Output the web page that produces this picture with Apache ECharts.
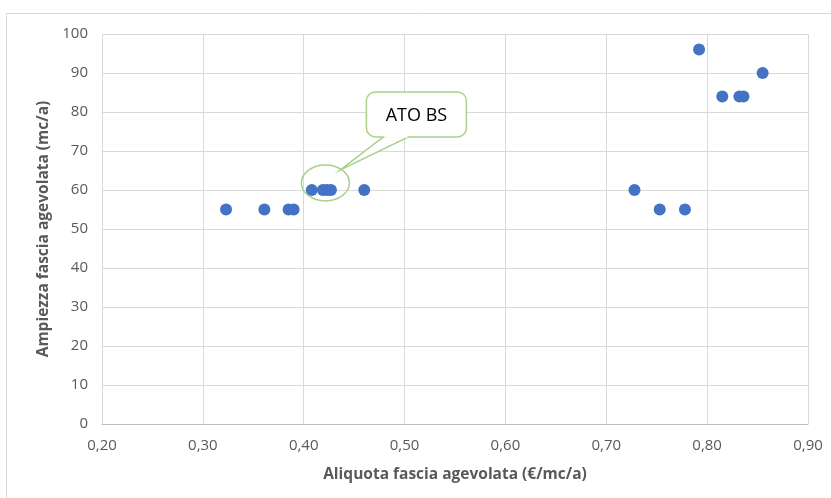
<!DOCTYPE html>
<html>
<head>
<meta charset="utf-8">
<script src="https://cdn.jsdelivr.net/npm/echarts@6/dist/echarts.min.js"></script>
<style>
  html, body { margin: 0; padding: 0; background: #fff; }
  #chart { width: 831px; height: 498px; }
</style>
</head>
<body>
<div id="chart"></div>
<script>
// Aliquota (€/mc/a) and ampiezza (mc/a) of the subsidised band, one entry per operator
const aliquota = [0.323, 0.361, 0.385, 0.390, 0.408, 0.419, 0.423, 0.427, 0.460,
                  0.728, 0.753, 0.778, 0.792, 0.815, 0.832, 0.836, 0.855];
const ampiezza = [55, 55, 55, 55, 60, 60, 60, 60, 60,
                  60, 55, 55, 96, 84, 84, 84, 90];

// Highlighted operator group and its label
const calloutText = 'ATO BS';
const calloutAnchor = [0.4215, 60.8];

const xTitle = 'Aliquota fascia agevolata (€/mc/a)';
const yTitle = 'Ampiezza fascia agevolata (mc/a)';

const FONT = '"Open Sans", Lato, sans-serif';
const GREY = '#595959';
const GRID_LINE = '#D9D9D9';

const chart = echarts.init(document.getElementById('chart'));

const points = aliquota.map((x, i) => [x, ampiezza[i]]);

chart.setOption({
  animation: false,
  backgroundColor: '#fff',
  grid: { left: 102, top: 34, width: 706, height: 390, containLabel: false },
  xAxis: {
    type: 'value',
    min: 0.2, max: 0.9, interval: 0.1,
    name: xTitle,
    nameLocation: 'middle',
    nameGap: 43,
    nameTextStyle: { color: GREY, fontFamily: FONT, fontSize: 15.5, fontWeight: 'bold' },
    axisLine: { show: true, lineStyle: { color: '#BFBFBF', width: 1 } },
    axisTick: { show: false },
    axisLabel: {
      color: GREY, fontFamily: FONT, fontSize: 15, margin: 14,
      formatter: v => v.toFixed(2).replace('.', ',')
    },
    splitLine: { show: true, lineStyle: { color: GRID_LINE, width: 1 } }
  },
  yAxis: {
    type: 'value',
    min: 0, max: 100, interval: 10,
    name: yTitle,
    nameLocation: 'middle',
    nameGap: 48,
    nameTextStyle: { color: GREY, fontFamily: FONT, fontSize: 15.5, fontWeight: 'bold' },
    axisLine: { show: false },
    axisTick: { show: false },
    axisLabel: { color: GREY, fontFamily: FONT, fontSize: 15, margin: 14 },
    splitLine: { show: true, lineStyle: { color: GRID_LINE, width: 1 } }
  },
  series: [{
    type: 'scatter',
    data: points,
    symbol: 'circle',
    symbolSize: 12,
    itemStyle: { color: '#4472C4', opacity: 1 },
    z: 5
  }]
});

// Frame of the plot region plus the callout drawn around the highlighted group
function drawOverlay() {
  const rightGrid = chart.convertToPixel({ gridIndex: 0 }, [0.9, 100]);
  const a = chart.convertToPixel({ gridIndex: 0 }, calloutAnchor);
  const cx = a[0], cy = a[1] - 4;
  const box = { x: cx + 41, y: cy - 91, w: 100, h: 45 };
  const tip = [cx + 15, cy - 13];
  const green = '#A9D18E';
  chart.setOption({
    graphic: [
      {
        type: 'rect', silent: true, z: 0,
        shape: { x: 6.5, y: 13.5, width: 900, height: 600 },
        style: { fill: 'none', stroke: GRID_LINE, lineWidth: 1 }
      },
      {
        type: 'line', silent: true, z: 1,
        shape: { x1: rightGrid[0] + 0.5, y1: rightGrid[1], x2: rightGrid[0] + 0.5, y2: 424 },
        style: { stroke: GRID_LINE, lineWidth: 1 }
      },
      {
        type: 'ellipse', silent: true, z: 10,
        shape: { cx: cx, cy: cy, rx: 24, ry: 18 },
        style: { fill: 'none', stroke: green, lineWidth: 1.5 }
      },
      {
        type: 'polygon', silent: true, z: 10,
        shape: { points: [[box.x + 17, box.y + box.h], tip, [box.x + 42, box.y + box.h]] },
        style: { fill: '#fff', stroke: green, lineWidth: 1.5 }
      },
      {
        type: 'rect', silent: true, z: 11,
        shape: { x: box.x, y: box.y, width: box.w, height: box.h, r: 9 },
        style: { fill: '#fff', stroke: green, lineWidth: 1.5 }
      },
      {
        type: 'rect', silent: true, z: 12,
        shape: { x: box.x + 18, y: box.y + box.h - 3, width: 23, height: 4 },
        style: { fill: '#fff', stroke: 'none' }
      },
      {
        type: 'text', silent: true, z: 13,
        x: box.x + box.w / 2, y: box.y + box.h / 2 + 1,
        style: {
          text: calloutText, fill: '#000', fontFamily: FONT, fontSize: 18,
          align: 'center', verticalAlign: 'middle'
        }
      }
    ]
  });
}
drawOverlay();
</script>
</body>
</html>
